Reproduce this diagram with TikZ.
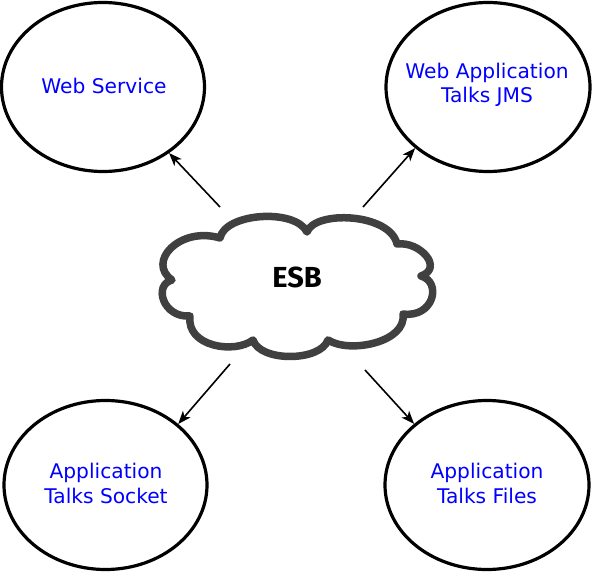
\documentclass[tikz,border=0pt]{standalone}
\usepackage{fontspec}
\setmainfont{DejaVu Sans}
\newfontfamily\esbfont{Fira Sans}
\usetikzlibrary{shapes.geometric,arrows.meta}
\definecolor{cloudgray}{RGB}{64,64,64}
\tikzset{
  bubble/.style={draw=black, line width=3.2pt, ellipse, inner sep=0pt,
    minimum width=203pt, minimum height=169pt},
  lbl/.style={text=blue, align=center, inner sep=0pt,
    font=\fontsize{20.2}{24.5}\selectfont},
  arr/.style={line width=1.6pt, -{Stealth[length=13pt,width=10pt,inset=3.5pt]}},
  cloudline/.style={draw=cloudgray, line width=7.5pt, line join=round, fill=white}
}
\begin{document}
\begin{tikzpicture}[x=1pt,y=-1pt]
\useasboundingbox (0,0) rectangle (592,572);
% cloud
\draw[cloudline] (220,238)
  .. controls (225,213) and (295,208) .. (307,232)
  .. controls (315,210) and (390,213) .. (397,244)
  .. controls (420,241) and (444,268) .. (421,276)
  .. controls (442,282) and (434,318) .. (403,314)
  .. controls (407,342) and (350,354) .. (328,340)
  .. controls (320,362) and (260,362) .. (253,340)
  .. controls (235,354) and (186,347) .. (190,316)
  .. controls (163,318) and (153,285) .. (172,280)
  .. controls (146,262) and (180,226) .. (220,238) -- cycle;
\node[inner sep=0pt, font=\esbfont\bfseries\fontsize{29}{29}\selectfont] (esb) at (297,277) {ESB};
% ellipses
\node[bubble] (ws) at (103,87) {};
\node[bubble, minimum width=204pt] (jms) at (488,87) {};
\node[bubble] (sock) at (105.5,485) {};
\node[bubble, minimum width=204pt] (files) at (487,485) {};
% labels
\node[lbl] (tws) at (104,85.5) {Web Service};
\node[lbl] (tjms) at (487,85) {Web Application\\Talks JMS};
\node[lbl] (tsock) at (106,483.5) {Application\\Talks Socket};
\node[lbl] (tfiles) at (487,483.5) {Application\\Talks Files};
% arrow starts
\coordinate (s1) at (220,207);
\coordinate (s2) at (363,207);
\coordinate (s3) at (230,364);
\coordinate (s4) at (365,370);
\draw[arr] (s1) -- (ws.-45);
\draw[arr] (s2) -- (jms.220);
\draw[arr] (s3) -- (sock.40);
\draw[arr] (s4) -- (files.140);
\end{tikzpicture}
\end{document}
